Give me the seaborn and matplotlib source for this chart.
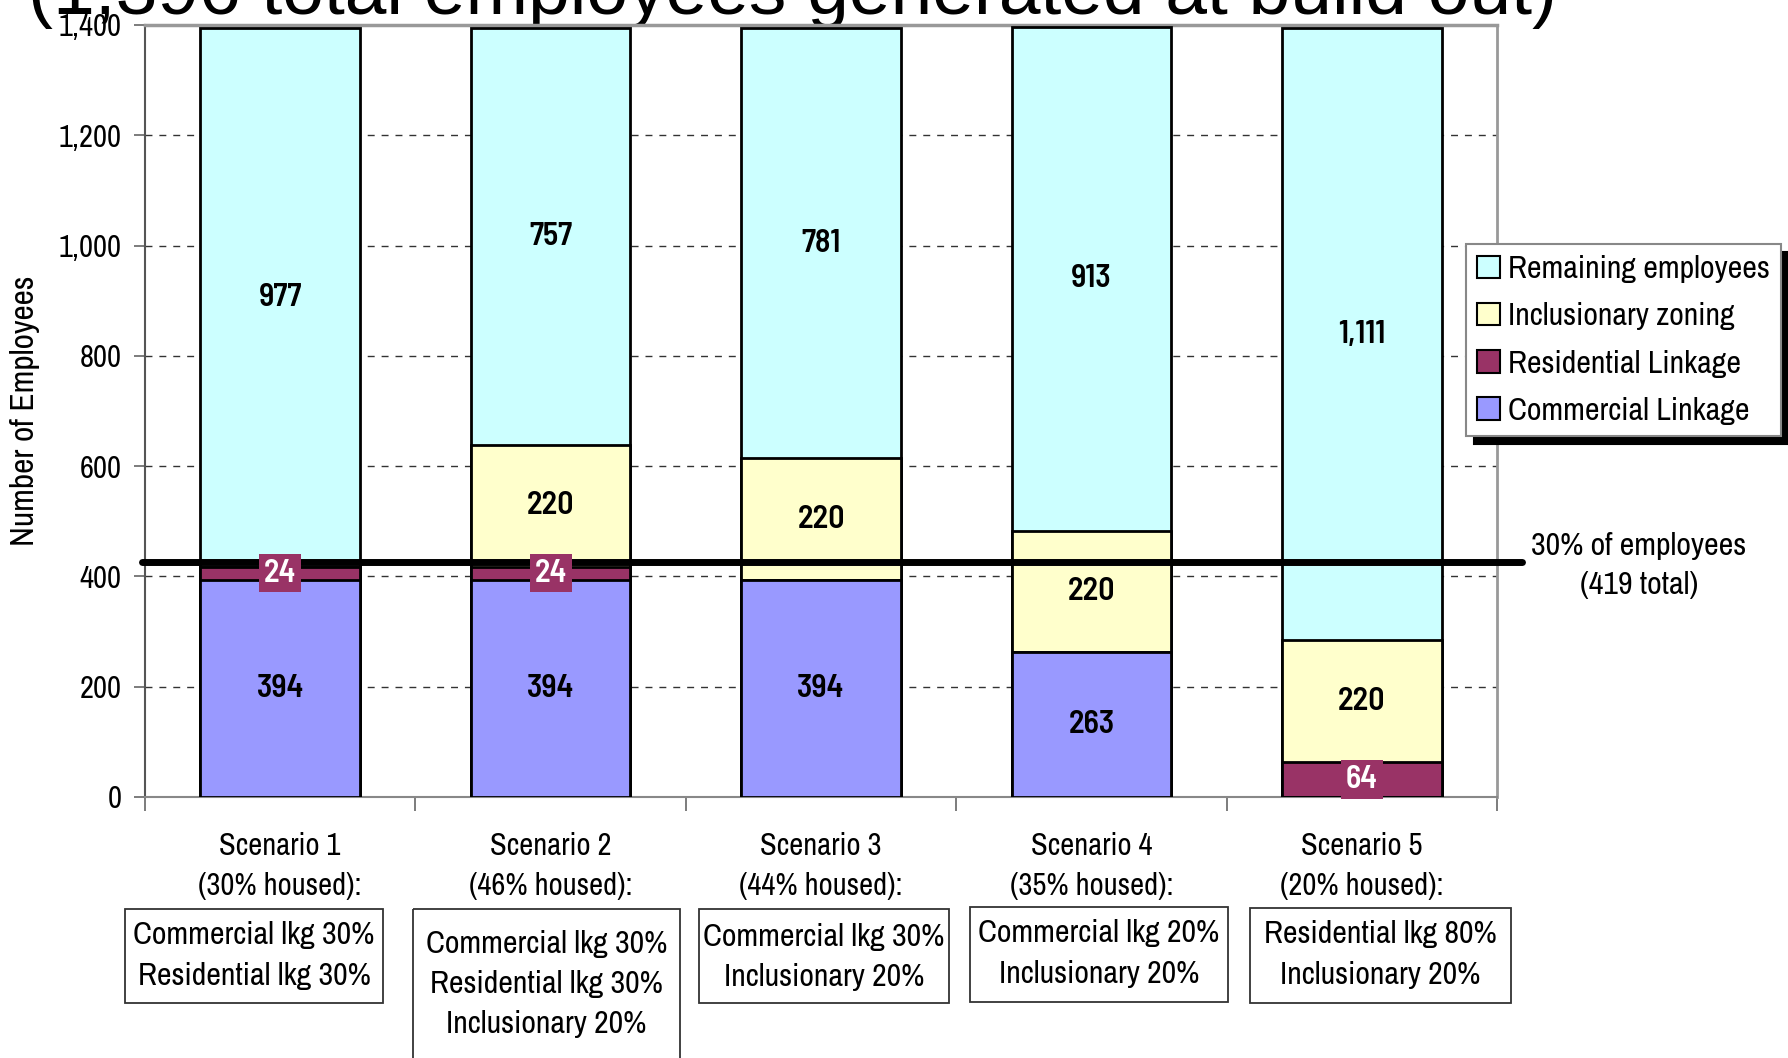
import matplotlib
matplotlib.use("Agg")
import matplotlib.pyplot as plt
import seaborn as sns
import numpy as np
from matplotlib.patches import Rectangle, Patch
from matplotlib.ticker import FuncFormatter

# ---------------- data ----------------
scenarios = ["Scenario 1", "Scenario 2", "Scenario 3", "Scenario 4", "Scenario 5"]
housed = ["(30% housed):", "(46% housed):", "(44% housed):", "(35% housed):", "(20% housed):"]
commercial = [394, 394, 394, 263, 0]
residential = [24, 24, 0, 0, 64]
inclusionary = [0, 220, 220, 220, 220]
remaining = [977, 757, 781, 913, 1111]
series_names = ["Commercial Linkage", "Residential Linkage", "Inclusionary zoning", "Remaining employees"]
series_colors = ["#9999FF", "#993366", "#FFFFCC", "#CCFFFF"]
threshold_value = 426          # drawn position of the 30% line
threshold_text = ["30% of employees", "(419 total)"]
box_texts = [
    ["Commercial lkg 30%", "Residential lkg 30%"],
    ["Commercial lkg 30%", "Residential lkg 30%", "Inclusionary 20%"],
    ["Commercial lkg 30%", "Inclusionary 20%"],
    ["Commercial lkg 20%", "Inclusionary 20%"],
    ["Residential lkg 80%", "Inclusionary 20%"],
]
yticks = [0, 200, 400, 600, 800, 1000, 1200, 1400]
title = "(1,396 total employees generated at build out)"
ylabel = "Number of Employees"

# ---------------- style ----------------
sns.set_theme(style="white")
NARROW = ["Archivo Narrow", "DejaVu Sans"]
BOLDNUM = ["Barlow Semi Condensed", "DejaVu Sans"]
plt.rcParams["font.family"] = NARROW

W, H = 1788, 1058
fig = plt.figure(figsize=(W / 100, H / 100), dpi=100)
ax_l, ax_r, ax_t, ax_b = 145, 1497, 25, 797
ax = fig.add_axes([ax_l / W, 1 - ax_b / H, (ax_r - ax_l) / W, (ax_b - ax_t) / H])

layers = [commercial, residential, inclusionary, remaining]
cum = np.cumsum(np.array(layers), axis=0)

for i in reversed(range(len(layers))):
    sns.barplot(x=scenarios, y=cum[i], color=series_colors[i], saturation=1,
                width=0.59, edgecolor="black", linewidth=2, ax=ax, zorder=3)

# value labels
for i, layer in enumerate(layers):
    for j, v in enumerate(layer):
        if v <= 0:
            continue
        yc = cum[i][j] - v / 2
        txt = f"{v:,}"
        if i == 1:
            ax.text(j, yc, txt, ha="center", va="center", fontsize=23, fontweight="semibold",
                    family=BOLDNUM, color="white", zorder=6,
                    bbox=dict(boxstyle="square,pad=0.15", fc=series_colors[1], ec="none"))
        else:
            ax.text(j, yc, txt, ha="center", va="center", fontsize=23, fontweight="semibold",
                    family=BOLDNUM, color="black", zorder=6)

ax.set_ylim(0, 1400)
ax.set_xlim(-0.5, len(scenarios) - 0.5)
ax.set_yticks(yticks)
ax.yaxis.set_major_formatter(FuncFormatter(lambda v, p: f"{int(v):,}"))
ax.tick_params(axis="y", which="major", direction="out", length=8, width=1.2,
               color="#666666", pad=9, labelsize=22, left=True, labelcolor="black")
ax.set_xticks(range(len(scenarios)))
ax.set_xticklabels([f"{s}\n{h}" for s, h in zip(scenarios, housed)], fontsize=22,
                   linespacing=1.55, color="black")
ax.tick_params(axis="x", which="major", length=0, pad=25)
ax.set_xticks(np.arange(-0.5, len(scenarios), 1.0), minor=True)
ax.tick_params(axis="x", which="minor", direction="out", length=10, width=1.2,
               color="#666666", bottom=True)
ax.set_xlabel("")
ax.set_ylabel(ylabel, fontsize=24, color="black")
ax.yaxis.set_label_coords(-0.078, 0.5)

ax.yaxis.grid(True, linestyle=(0, (5, 5)), color="#333333", linewidth=1)
ax.xaxis.grid(False)
ax.set_axisbelow(True)

for name, sp in ax.spines.items():
    sp.set_visible(True)
ax.spines["left"].set_color("#555555"); ax.spines["left"].set_linewidth(1.5)
ax.spines["bottom"].set_color("#888888"); ax.spines["bottom"].set_linewidth(1.5)
ax.spines["top"].set_color("#999999"); ax.spines["top"].set_linewidth(2.5)
ax.spines["right"].set_color("#999999"); ax.spines["right"].set_linewidth(2)

# 30% line
ax.axhline(threshold_value, xmin=-0.002, xmax=1.0186, color="black", lw=5,
           clip_on=False, zorder=5)

# legend
handles = [Patch(facecolor=series_colors[i], edgecolor="black", linewidth=1.5,
                 label=series_names[i]) for i in reversed(range(4))]
leg = ax.legend(handles=handles, loc="upper left",
                bbox_to_anchor=(1466 / W, 1 - 244 / H), bbox_transform=fig.transFigure,
                fontsize=23, frameon=True, fancybox=False, edgecolor="#888888",
                shadow={"color": "black", "alpha": 1.0, "ox": 6, "oy": -6}, borderaxespad=0,
                handlelength=0.7, handleheight=0.7, handletextpad=0.25,
                labelspacing=0.6, borderpad=0.35)
leg.get_frame().set_linewidth(1.5)
for t in leg.get_texts():
    t.set_color("black")

# overlay in pixel coordinates for annotations
ov = fig.add_axes([0, 0, 1, 1], zorder=-1)
ov.set_xlim(0, W); ov.set_ylim(H, 0); ov.axis("off")

ov.text(793, 14, title, ha="center", va="baseline", fontsize=54,
        family=["Liberation Sans", "DejaVu Sans"], color="black")

ov.text(1639, 546, threshold_text[0], ha="center", va="center", fontsize=23, color="black")
ov.text(1639, 585, threshold_text[1], ha="center", va="center", fontsize=23, color="black")

boxes = [(125, 909, 383, 1003), (413, 909, 680, 1075), (699, 909, 949, 1003),
         (970, 907, 1228, 1002), (1250, 908, 1511, 1003)]
line_y = [[935, 976], [944, 984, 1024], [937, 977], [933, 974], [934, 975]]
for (x0, y0, x1, y1), lines, ys in zip(boxes, box_texts, line_y):
    ov.add_patch(Rectangle((x0, y0), x1 - x0, y1 - y0, fill=False, ec="#333333", lw=1.3,
                           clip_on=False))
    for t, yy in zip(lines, ys):
        ov.text((x0 + x1) / 2, yy, t, ha="center", va="center", fontsize=23, color="black")

fig.savefig("out.png", dpi=100)
